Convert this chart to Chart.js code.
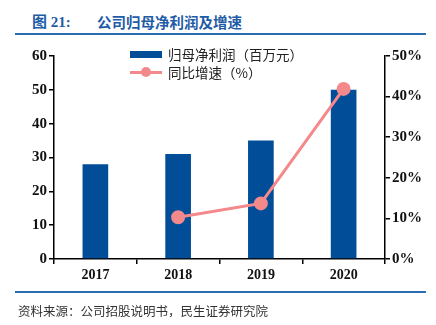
<!DOCTYPE html>
<html>
<head>
<meta charset="utf-8">
<script src="https://cdn.jsdelivr.net/npm/chart.js@4.4.0/dist/chart.umd.min.js"></script>
<style>
  body { margin: 0; width: 436px; height: 325px; position: relative; background: #fff; overflow: hidden; font-family: "Noto Sans CJK SC", sans-serif; }
  #chartBox { position: absolute; left: 0; top: 0; width: 436px; height: 325px; }
  .title { position: absolute; top: 12px; font-size: 14.5px; font-weight: bold; color: #1f5ca6; line-height: 20px; white-space: nowrap; }
  .rule { position: absolute; left: 15px; width: 411px; height: 2px; background: #2b6cb0; }
  .legend { position: absolute; left: 130px; font-size: 13.5px; color: #222; line-height: 18px; white-space: nowrap; }
  .legend span { position: absolute; left: 38px; top: -9px; }
  .swatch-bar { position: absolute; left: 0; top: -3px; width: 32px; height: 7px; background: #024d97; }
  .swatch-line { position: absolute; left: 0; top: -1px; width: 32px; height: 3px; background: #f4898b; }
  .swatch-dot { position: absolute; left: 11px; top: -5px; width: 10px; height: 10px; border-radius: 50%; background: #f4898b; }
  .source { position: absolute; left: 18px; top: 302px; font-size: 12.5px; color: #333; white-space: nowrap; line-height: 18px; }
</style>
</head>
<body>
<div class="title" style="left:32px; font-family: 'Liberation Serif', 'Noto Sans CJK SC', serif; font-size: 15px;">图 21:</div>
<div class="title" style="left:97px">公司归母净利润及增速</div>
<div class="rule" style="top:33px"></div>
<div id="chartBox"><canvas id="myChart"></canvas></div>
<div class="legend" style="top:54px"><div class="swatch-bar"></div><span id="lg0"></span></div>
<div class="legend" style="top:72px"><div class="swatch-line"></div><div class="swatch-dot"></div><span id="lg1"></span></div>
<div class="rule" style="top:291px"></div>
<div class="source">资料来源：公司招股说明书，民生证券研究院</div>
<script>
const years = ['2017', '2018', '2019', '2020'];
const netProfit = [28, 31, 35, 50];          // 归母净利润（百万元）
const growth = [null, 10.3, 13.7, 41.9];     // 同比增速（%）
const seriesNames = ['归母净利润（百万元）', '同比增速（%）'];

document.getElementById('lg0').textContent = seriesNames[0];
document.getElementById('lg1').textContent = seriesNames[1];

const xFont = { family: '"Liberation Serif", "Times New Roman", serif', size: 14, weight: 'bold' };
const yFont = { family: '"Liberation Serif", "Times New Roman", serif', size: 15, weight: 'bold' };

const data = {
  labels: years,
  datasets: [
    {
      type: 'line',
      label: seriesNames[1],
      data: growth,
      yAxisID: 'y1',
      borderColor: '#f4898b',
      backgroundColor: '#f4898b',
      borderWidth: 3,
      pointRadius: 5.5,
      pointHoverRadius: 5.5,
      tension: 0
    },
    {
      type: 'bar',
      label: seriesNames[0],
      data: netProfit,
      yAxisID: 'y',
      backgroundColor: '#024d97',
      barPercentage: 0.31,
      categoryPercentage: 1
    }
  ]
};

const config = {
  data: data,
  options: {
    responsive: false,
    animation: false,
    layout: { padding: { top: 56, left: 0, right: 0, bottom: 0 } },
    plugins: { legend: { display: false }, tooltip: { enabled: false } },
    scales: {
      x: {
        grid: { display: true, offset: true, drawOnChartArea: false, color: '#000', lineWidth: 1.5, tickLength: 5 },
        border: { color: '#000', width: 1.5 },
        ticks: { color: '#111', font: xFont, padding: 3 },
        afterFit: function (s) { s.height = 66; }
      },
      y: {
        position: 'left',
        min: 0, max: 60,
        ticks: { stepSize: 10, color: '#111', font: yFont, padding: 2 },
        grid: { drawOnChartArea: false, color: '#000', lineWidth: 1.5, tickLength: 5 },
        border: { color: '#000', width: 1.5 },
        afterFit: function (s) { s.width = 54; }
      },
      y1: {
        position: 'right',
        min: 0, max: 50,
        ticks: { stepSize: 10, color: '#111', font: yFont, padding: 2, callback: v => v + '%' },
        grid: { drawOnChartArea: false, color: '#000', lineWidth: 1.5, tickLength: 5 },
        border: { color: '#000', width: 1.5 },
        afterFit: function (s) { s.width = 51; }
      }
    }
  }
};

const canvas = document.getElementById('myChart');
canvas.width = 436;
canvas.height = 325;
const myChart = new Chart(canvas, config);
</script>
</body>
</html>
